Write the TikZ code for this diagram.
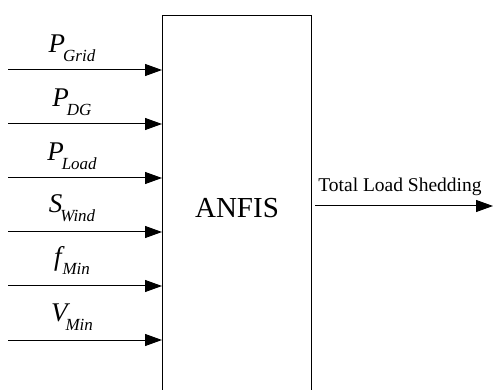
\documentclass[tikz,border=0pt]{standalone}
\usepackage{fontspec}
\setmainfont{Liberation Serif}
\usetikzlibrary{arrows.meta,calc}
\newcommand{\sig}[2]{{\fontsize{27}{27}\selectfont\itshape #1}\kern-2pt\raisebox{-9pt}{\fontsize{17}{17}\selectfont\itshape #2}}
\tikzset{
  inarrow/.style={-{Triangle[length=17pt,width=12pt]}, line width=1pt},
  inlabel/.style={anchor=base, inner sep=0pt},
}

\begin{document}
\begin{tikzpicture}[x=1pt,y=-1pt]
            \useasboundingbox (0,0) rectangle (493,390);
            \clip (0,0) rectangle (493,390);
            \node[rectangle,draw,line width=1pt,anchor=north west,minimum width=149pt,minimum height=385pt,font=\fontsize{29}{29}\selectfont] (anfis) at (162,15) {ANFIS};
            % inputs
            \coordinate (pgrid) at (8,70);
            \coordinate (pdg) at (8,124);
            \coordinate (pload) at (8,178);
            \coordinate (swind) at (8,232);
            \coordinate (fmin) at (8,286);
            \coordinate (vmin) at (8,340);
            \node[inlabel] (pgridlbl) at (72,53) {\sig{P}{Grid}};
            \node[inlabel] (pdglbl) at (72,107) {\sig{P}{DG}};
            \node[inlabel] (ploadlbl) at (72,161) {\sig{P}{Load}};
            \node[inlabel] (swindlbl) at (72,213) {\sig{S}{Wind}};
            \node[inlabel] (fminlbl) at (72,266) {\sig{f\kern3pt}{Min}};
            \node[inlabel] (vminlbl) at (72,322) {\sig{V}{Min}};
            \draw[inarrow] (pgrid) -- (pgrid -| anfis.west);
            \draw[inarrow] (pdg) -- (pdg -| anfis.west);
            \draw[inarrow] (pload) -- (pload -| anfis.west);
            \draw[inarrow] (swind) -- (swind -| anfis.west);
            \draw[inarrow] (fmin) -- (fmin -| anfis.west);
            \draw[inarrow] (vmin) -- (vmin -| anfis.west);
            % output
            \coordinate (shed) at (493,206);
            \draw[inarrow] ($(anfis.east |- shed)+(3,0)$) -- (shed);
            \node[inlabel,font=\fontsize{19.5}{19.5}\selectfont] (shedlbl) at (400,192) {Total Load Shedding};
        \end{tikzpicture}
\end{document}
